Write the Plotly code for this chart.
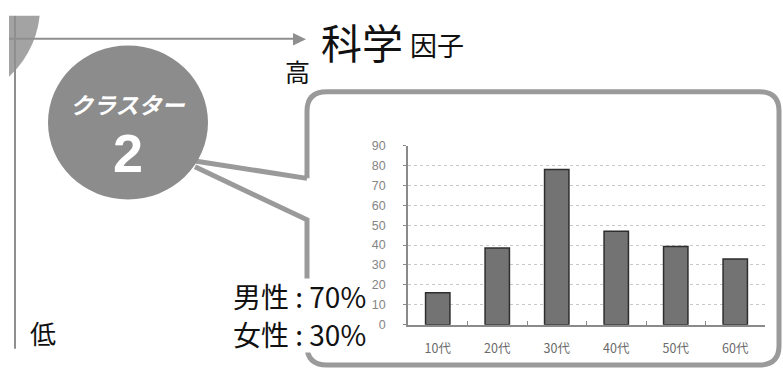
import plotly.graph_objects as go

categories = ["10代", "20代", "30代", "40代", "50代", "60代"]
values = [16, 38.5, 78, 47, 39.3, 33]
y_ticks = [0, 10, 20, 30, 40, 50, 60, 70, 80, 90]

W, H = 783, 375
JP = "Noto Sans CJK JP, Noto Sans, sans-serif"
BOXC = "#9a9a9a"

fig = go.Figure()
fig.add_trace(go.Bar(
    x=categories, y=values,
    marker=dict(color="#737373", line=dict(color="#2e2e2e", width=1.5)),
    hoverinfo="skip", showlegend=False,
))
# invisible overlay trace for a pixel-coordinate decoration layer
fig.add_trace(go.Scatter(x=[], y=[], xaxis="x2", yaxis="y2", showlegend=False, hoverinfo="skip"))

fig.update_layout(
    width=W, height=H,
    margin=dict(l=0, r=0, t=0, b=0),
    paper_bgcolor="white", plot_bgcolor="rgba(0,0,0,0)",
    bargap=0.59,
    xaxis=dict(
        domain=[408 / W, 765 / W],
        showline=True, linecolor="#8a8a8a", linewidth=1.5,
        ticks="inside", tickson="boundaries", ticklen=4, tickcolor="#8a8a8a",
        tickfont=dict(family=JP, size=12.5, color="#6a6a6a"),
        ticklabelstandoff=12,
        showgrid=False, fixedrange=True,
    ),
    yaxis=dict(
        domain=[(H - 330) / H, (H - 144) / H],
        range=[0, 90], tickvals=y_ticks,
        showline=True, linecolor="#8a8a8a", linewidth=1.5,
        ticks="outside", ticklen=3, tickcolor="#8a8a8a",
        tickfont=dict(family="Liberation Sans, Arial, sans-serif", size=12.5, color="#858585"),
        ticklabelstandoff=15,
        showgrid=True, gridcolor="#c8c8c8", griddash="dot", gridwidth=1,
        zeroline=False, fixedrange=True,
    ),
    xaxis2=dict(domain=[9 / W, 1], range=[9, W], visible=False, anchor="y2", fixedrange=True),
    yaxis2=dict(domain=[0, 1 - 9 / H], range=[H, 9], visible=False, anchor="x2", fixedrange=True),
)

shapes = []
ref = dict(xref="x2", yref="y2")
# top-left partial circle
shapes.append(dict(type="circle", x0=-160, x1=40, y0=-100, y1=100,
                   fillcolor="#a3a3a3", line=dict(width=0), layer="below", **ref))
# axis lines
shapes.append(dict(type="line", x0=15, x1=15, y0=9, y1=355,
                   line=dict(color="#8f8f8f", width=2), layer="below", **ref))
shapes.append(dict(type="line", x0=9, x1=294, y0=33, y1=33,
                   line=dict(color="#8f8f8f", width=2), layer="below", **ref))
shapes.append(dict(type="path", path="M 293 27 L 306 33.5 L 293 40 Z",
                   fillcolor="#8f8f8f", line=dict(width=0), layer="below", **ref))
# callout box with pointer
r = 20
L, T, R, B = 307, 88, 779, 372
path = (f"M {L} 178 L {L} {T + r} Q {L} {T} {L + r} {T} L {R - r} {T} Q {R} {T} {R} {T + r} "
        f"L {R} {B - r} Q {R} {B} {R - r} {B} L {L + r} {B} Q {L} {B} {L} {B - r} "
        f"L {L} 221 L 195 166 M {L} 178 L 195 160")
shapes.append(dict(type="path", path=path, line=dict(color=BOXC, width=5), layer="below", **ref))
# cluster circle
shapes.append(dict(type="circle", x0=48, x1=208, y0=40, y1=200,
                   fillcolor="#8c8c8c", line=dict(width=0), layer="below", **ref))
# white patch behind gender text
shapes.append(dict(type="rect", x0=226, x1=372, y0=282, y1=359,
                   fillcolor="white", line=dict(width=0), layer="above", **ref))
fig.update_layout(shapes=shapes)

ann = []
def txt(x, y, s, size, color="#111", family=JP, xanchor="center"):
    ann.append(dict(x=x, y=y, text=s, showarrow=False, xref="x2", yref="y2",
                    font=dict(family=family, size=size, color=color),
                    xanchor=xanchor, yanchor="middle"))

txt(319, 35, "科学", 41, xanchor="left")
txt(408, 39, "因子", 27, xanchor="left")
txt(297, 66, "高", 25)
txt(43, 338, "低", 26)
txt(128, 101, "<b><i>クラスター</i></b>", 23, color="white")
txt(128, 152, "<b>2</b>", 54, color="white", family="Liberation Sans, Arial, sans-serif")
txt(231, 300, "男性 : 70%", 28, xanchor="left")
txt(231, 340, "女性 : 30%", 28, xanchor="left")
fig.update_layout(annotations=ann)

fig.write_html("out.html")
